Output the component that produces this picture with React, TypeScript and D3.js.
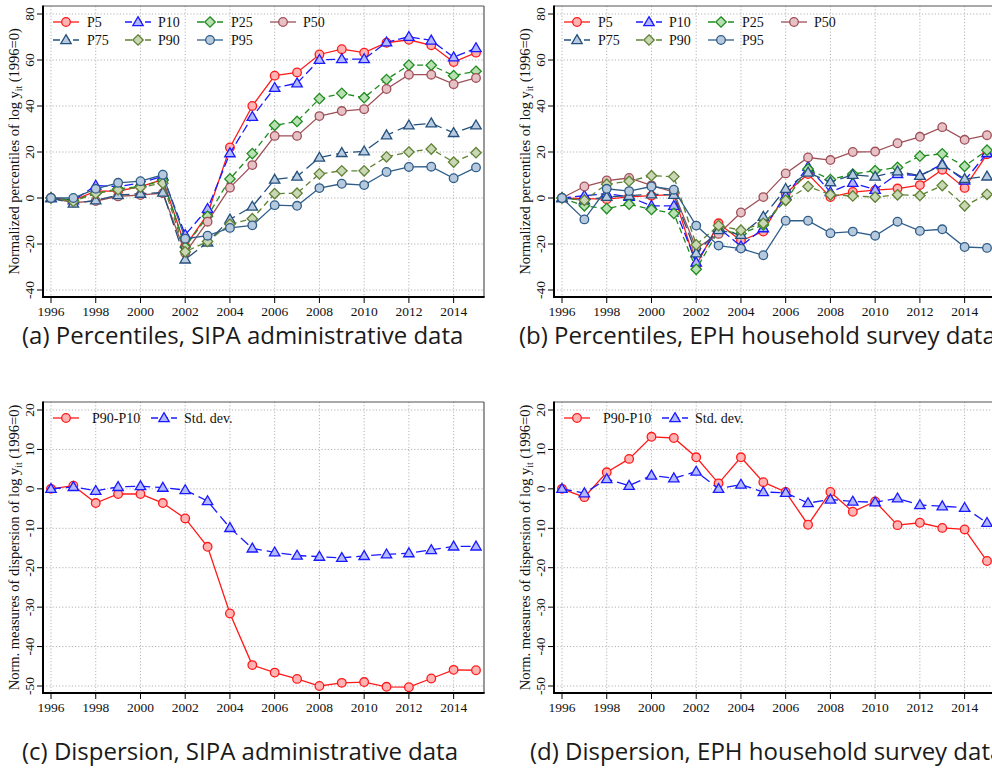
import React from "react";
import * as d3 from "d3";

const years = [1996, 1997, 1998, 1999, 2000, 2001, 2002, 2003, 2004, 2005, 2006, 2007, 2008, 2009, 2010, 2011, 2012, 2013, 2014, 2015];
const xTickYears = [1996, 1998, 2000, 2002, 2004, 2006, 2008, 2010, 2012, 2014];
const pctTicks = [-40, -20, 0, 20, 40, 60, 80];
const dispTicks = [-50, -40, -30, -20, -10, 0, 10, 20];

// Panel (a) SIPA percentiles
const p5A = [0, -1, 3, 3, 5, 8, -21, -7, 22, 40, 53.2, 54.6, 62.4, 64.7, 63.2, 67.5, 68.8, 66.4, 59.1, 63.2];
const p10A = [0, -1, 5.4, 5, 6.5, 9.5, -16, -4.7, 19.5, 35.3, 47.9, 49.9, 60.1, 60.4, 60.4, 67.7, 70.1, 68.5, 61.2, 65.2];
const p25A = [0, -1, 2, 4, 5, 7.6, -21.3, -7.9, 8.3, 19.3, 31.6, 33.3, 43.2, 45.5, 43.6, 51.5, 57.8, 57.7, 53.2, 55.1];
const p50A = [0, -2, -1.3, 0.7, 1.3, 2.1, -23.9, -10.3, 4.5, 14.3, 27, 27, 35.6, 37.8, 38.6, 47.4, 53.6, 53.6, 49.5, 52.2];
const p75A = [0, -2.4, -1, 1.3, 1.9, 2.4, -26.7, -19.3, -9.3, -3.7, 8, 9.3, 17.6, 19.6, 20.3, 27.3, 31.6, 32.5, 28.3, 31.6];
const p90A = [0, -1.5, 2, 3.6, 4.7, 6.4, -23.4, -18.9, -11.4, -9, 1.9, 2.1, 10.5, 11.8, 11.8, 17.9, 20, 21.3, 15.6, 19.7];
const p95A = [0, 0, 4, 6.6, 7.3, 10.1, -17.7, -16.4, -13, -11.9, -3.1, -3.4, 4.3, 6.2, 5.6, 11.3, 13.5, 13.6, 8.6, 13.3];

// Panel (b) EPH percentiles
const p5B = [0, -0.3, -0.5, 0.5, 1, 1.5, -29.3, -11, -18.6, -14.6, 2, 10.4, 0.4, 2.6, 3.4, 4.1, 5.6, 12.3, 4.4, 19];
const p10B = [0, 1, 1.9, 0.5, -3.4, -3.4, -28, -13, -21, -13.1, 1, 13.6, 2.6, 6.6, 3.6, 10.4, 9.7, 14.7, 7.6, 19.5];
const p25B = [0, -3.4, -4.6, -2.7, -5, -6.7, -31, -14, -15.5, -11.7, -1, 12.6, 8, 10.4, 11.9, 13.3, 18.2, 19.2, 13.8, 20.8];
const p50B = [0, 5, 7.6, 8.7, 5.5, 2.5, -22, -15.6, -6.3, 0.4, 10.7, 17.6, 16.5, 20, 20.2, 23.8, 26.6, 30.8, 25.3, 27.3];
const p75B = [0, -1, 0.5, 1, 1.6, 1.4, -24, -13.9, -16, -8.1, 4, 11.1, 6.9, 10.1, 9.3, 11.6, 9.7, 14.4, 8.3, 9.4];
const p90B = [0, -1, 6, 7.3, 9.7, 9.3, -20.3, -12, -14, -11, -1, 5, 1.4, 0.9, 0.4, 1.4, 1.1, 5.4, -3.4, 1.6];
const p95B = [0, -9.3, 4, 3, 5, 3.6, -12, -20.7, -22, -24.9, -9.9, -9.9, -15.3, -14.6, -16.4, -10.3, -14.3, -13.6, -21.3, -21.7];

// Panels (c), (d) dispersion
const p9010C = [0, 0.8, -3.6, -1.3, -1.3, -3.6, -7.5, -14.7, -31.6, -44.7, -46.6, -48.2, -50, -49.2, -49, -50.2, -50.3, -48.1, -45.9, -46];
const sdC = [0, 0.5, -0.5, 0.5, 0.7, 0.3, -0.3, -3.1, -9.9, -15.1, -16.1, -16.9, -17.2, -17.5, -17, -16.6, -16.3, -15.5, -14.6, -14.6];
const p9010D = [0, -2.1, 4.2, 7.6, 13.2, 12.9, 8, 1.4, 8, 1.7, -0.8, -9.1, -0.8, -5.8, -3.2, -9.2, -8.6, -9.9, -10.3, -18.3];
const sdD = [0, -1.1, 2.5, 0.8, 3.4, 2.7, 4.4, 0, 1.1, -0.8, -1, -3.6, -2.7, -3.2, -3.4, -2.4, -4.1, -4.4, -4.8, -8.6];

const pctNames = ["P5", "P10", "P25", "P50", "P75", "P90", "P95"];
const dispNames = ["P90-P10", "Std. dev."];

type Shape = "circle" | "triangle" | "diamond";
type Style = { stroke: string; fill: string; dash: string; shape: Shape };

const pctStyles: Style[] = [
  { stroke: "#ff1a1a", fill: "#ffb3b3", dash: "", shape: "circle" },
  { stroke: "#1a1aff", fill: "#b3b8ff", dash: "9,4", shape: "triangle" },
  { stroke: "#1f8c1f", fill: "#b9e0b3", dash: "6,4", shape: "diamond" },
  { stroke: "#9e4f57", fill: "#e6c1c5", dash: "", shape: "circle" },
  { stroke: "#24507c", fill: "#b8cbe0", dash: "12,5", shape: "triangle" },
  { stroke: "#5f8234", fill: "#c9d7b5", dash: "6,4", shape: "diamond" },
  { stroke: "#2f5d88", fill: "#b6c9dd", dash: "", shape: "circle" },
];
const dispStyles: Style[] = [
  { stroke: "#ff1a1a", fill: "#ffb3b3", dash: "", shape: "circle" },
  { stroke: "#1a1aff", fill: "#b3b8ff", dash: "10,5", shape: "triangle" },
];

const SERIF = "'Liberation Serif', 'Times New Roman', 'DejaVu Serif', serif";
const SANS = "'Open Sans', 'Noto Sans', sans-serif";

function Marker({ shape, x, y, stroke, fill }: { shape: Shape; x: number; y: number; stroke: string; fill: string }) {
  if (shape === "circle") return <circle cx={x} cy={y} r={4.3} fill={fill} stroke={stroke} strokeWidth={1.3} />;
  const d = shape === "triangle" ? "M0,-5.3L5.2,3.6L-5.2,3.6Z" : "M0,-5.2L5.2,0L0,5.2L-5.2,0Z";
  return <path d={d} transform={`translate(${x},${y})`} fill={fill} stroke={stroke} strokeWidth={1.3} />;
}

type PanelProps = {
  ox: number;
  oy: number;
  yDomain: [number, number];
  yTicks: number[];
  data: number[][];
  names: string[];
  styles: Style[];
  legendCols: number[];
  legendTextDx: number[];
  legendPerRow: number;
  ylabelPre: string;
  caption: string;
  captionX: number;
  captionY: number;
};

const W = 441;
const H = 291;

function Panel(p: PanelProps) {
  const x = d3.scaleLinear().domain([1996, 2015]).range([8, 433]);
  const y = d3.scaleLinear().domain(p.yDomain).range([284, 8]);
  const line = d3
    .line<number>()
    .x((_, i) => x(years[i]))
    .y((d) => y(d));
  return (
    <g>
      <g transform={`translate(${p.ox},${p.oy})`}>
        {p.yTicks.map((t) => (
          <line key={"gy" + t} x1={0} x2={W} y1={y(t)} y2={y(t)} stroke="#b4b4b4" strokeWidth={1} strokeDasharray="1.2,2" />
        ))}
        {xTickYears.map((t) => (
          <line key={"gx" + t} x1={x(t)} x2={x(t)} y1={0} y2={H} stroke="#b4b4b4" strokeWidth={1} strokeDasharray="1.2,2" />
        ))}
        {p.data.map((s, si) => (
          <g key={"s" + si}>
            <path d={line(s) || ""} fill="none" stroke={p.styles[si].stroke} strokeWidth={1.3} strokeDasharray={p.styles[si].dash} />
            {s.map((v, i) => (
              <Marker key={i} shape={p.styles[si].shape} x={x(years[i])} y={y(v)} stroke={p.styles[si].stroke} fill={p.styles[si].fill} />
            ))}
          </g>
        ))}
        {p.names.map((n, i) => {
          const col = i % p.legendPerRow;
          const row = Math.floor(i / p.legendPerRow);
          const lx = p.legendCols[col];
          const ly = 16 + row * 18;
          const st = p.styles[i];
          return (
            <g key={"lg" + n}>
              <line x1={lx} x2={lx + 26} y1={ly} y2={ly} stroke={st.stroke} strokeWidth={1.3} strokeDasharray={st.dash ? "7,3" : ""} />
              <Marker shape={st.shape} x={lx + 13} y={ly} stroke={st.stroke} fill={st.fill} />
              <text x={lx + p.legendTextDx[col]} y={ly + 5} fontFamily={SERIF} fontSize={14} fill="#111">
                {n}
              </text>
            </g>
          );
        })}
        <line x1={0} x2={W} y1={0} y2={0} stroke="#555" strokeWidth={1.2} />
        <line x1={W} x2={W} y1={0} y2={H} stroke="#555" strokeWidth={1.2} />
        <line x1={0} x2={0} y1={-0.6} y2={H + 1} stroke="#000" strokeWidth={2} />
        <line x1={-1} x2={W + 0.6} y1={H} y2={H} stroke="#000" strokeWidth={2} />
        {p.yTicks.map((t) => (
          <g key={"ty" + t}>
            <line x1={-6} x2={0} y1={y(t)} y2={y(t)} stroke="#000" strokeWidth={1} />
            <text transform={`translate(-9,${y(t)}) rotate(-90)`} textAnchor="middle" fontFamily={SERIF} fontSize={13.5} fill="#111">
              {t}
            </text>
          </g>
        ))}
        {xTickYears.map((t) => (
          <g key={"tx" + t}>
            <line x1={x(t)} x2={x(t)} y1={H} y2={H + 6} stroke="#000" strokeWidth={1} />
            <text x={x(t)} y={H + 19} textAnchor="middle" fontFamily={SERIF} fontSize={13.5} fill="#111">
              {t}
            </text>
          </g>
        ))}
        <text transform={`translate(-24,${H / 2}) rotate(-90)`} textAnchor="middle" fontFamily={SERIF} fontSize={14.5} fill="#111">
          {p.ylabelPre}
          <tspan fontSize={9.5} dy={3}>
            it
          </tspan>
          <tspan dy={-3}> (1996=0)</tspan>
        </text>
      </g>
      <text x={p.captionX} y={p.captionY} fontFamily={SANS} fontSize={24} fill="#1a1a1a">
        {p.caption}
      </text>
    </g>
  );
}

export default function App() {
  const pctCols = [10, 82, 154, 227];
  const pctDx = [34, 33, 34, 33];
  const dispCols = [10, 108];
  const dispDx = [39, 33];
  return (
    <svg width={992} height={776} style={{ position: "absolute", left: 0, top: 0, background: "#fff" }}>
      <rect x={0} y={0} width={992} height={776} fill="#fff" />
      <Panel
        ox={43}
        oy={6}
        yDomain={[-40, 80]}
        yTicks={pctTicks}
        data={[p5A, p10A, p25A, p50A, p75A, p90A, p95A]}
        names={pctNames}
        styles={pctStyles}
        legendCols={pctCols}
        legendTextDx={pctDx}
        legendPerRow={4}
        ylabelPre="Normalized percentiles of log y"
        caption="(a) Percentiles, SIPA administrative data"
        captionX={22}
        captionY={344}
      />
      <Panel
        ox={554}
        oy={6}
        yDomain={[-40, 80]}
        yTicks={pctTicks}
        data={[p5B, p10B, p25B, p50B, p75B, p90B, p95B]}
        names={pctNames}
        styles={pctStyles}
        legendCols={pctCols}
        legendTextDx={pctDx}
        legendPerRow={4}
        ylabelPre="Normalized percentiles of log y"
        caption="(b) Percentiles, EPH household survey data"
        captionX={519}
        captionY={344}
      />
      <Panel
        ox={43}
        oy={402}
        yDomain={[-50, 20]}
        yTicks={dispTicks}
        data={[p9010C, sdC]}
        names={dispNames}
        styles={dispStyles}
        legendCols={dispCols}
        legendTextDx={dispDx}
        legendPerRow={2}
        ylabelPre="Norm. measures of dispersion of log y"
        caption="(c) Dispersion, SIPA administrative data"
        captionX={22}
        captionY={760}
      />
      <Panel
        ox={554}
        oy={402}
        yDomain={[-50, 20]}
        yTicks={dispTicks}
        data={[p9010D, sdD]}
        names={dispNames}
        styles={dispStyles}
        legendCols={dispCols}
        legendTextDx={dispDx}
        legendPerRow={2}
        ylabelPre="Norm. measures of dispersion of log y"
        caption="(d) Dispersion, EPH household survey data"
        captionX={530}
        captionY={760}
      />
    </svg>
  );
}
